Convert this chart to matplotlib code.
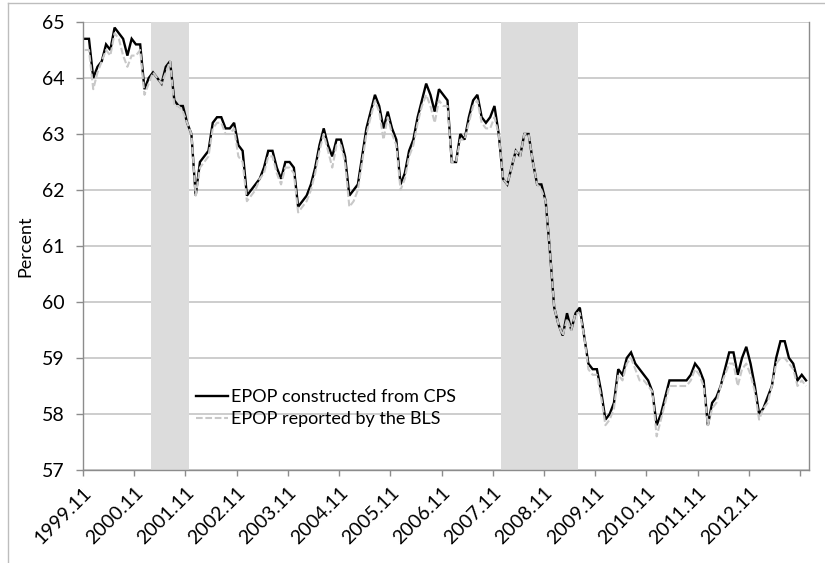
import matplotlib
matplotlib.use("Agg")
import matplotlib.pyplot as plt
from matplotlib.lines import Line2D
import numpy as np

plt.rcParams['font.family'] = ['Lato', 'DejaVu Sans']

# Monthly series, 1999.11 .. 2013.12
cps = [64.7, 64.7, 64.0, 64.2, 64.3, 64.6, 64.5, 64.9, 64.8, 64.7, 64.4, 64.7,
       64.6, 64.6, 63.8, 64.0, 64.1, 64.0, 63.9, 64.2, 64.3, 63.6, 63.5, 63.5,
       63.2, 63.0, 61.9, 62.5, 62.6, 62.7, 63.2, 63.3, 63.3, 63.1, 63.1, 63.2,
       62.8, 62.7, 61.9, 62.0, 62.1, 62.2, 62.4, 62.7, 62.7, 62.4, 62.2, 62.5,
       62.5, 62.4, 61.7, 61.8, 61.9, 62.1, 62.4, 62.8, 63.1, 62.8, 62.6, 62.9,
       62.9, 62.6, 61.9, 62.0, 62.1, 62.6, 63.1, 63.4, 63.7, 63.5, 63.1, 63.4,
       63.1, 62.9, 62.1, 62.3, 62.7, 62.9, 63.3, 63.6, 63.9, 63.7, 63.4, 63.8,
       63.7, 63.6, 62.5, 62.5, 63.0, 62.9, 63.3, 63.6, 63.7, 63.3, 63.2, 63.3,
       63.5, 63.0, 62.2, 62.1, 62.4, 62.7, 62.6, 63.0, 63.0, 62.5, 62.1, 62.1,
       61.8, 60.9, 59.9, 59.6, 59.4, 59.8, 59.5, 59.8, 59.9, 59.4, 58.9, 58.8,
       58.8, 58.4, 57.9, 58.0, 58.2, 58.8, 58.7, 59.0, 59.1, 58.9, 58.8, 58.7,
       58.6, 58.4, 57.8, 58.0, 58.3, 58.6, 58.6, 58.6, 58.6, 58.6, 58.7, 58.9,
       58.8, 58.6, 57.8, 58.2, 58.3, 58.5, 58.8, 59.1, 59.1, 58.7, 59.0, 59.2,
       58.9, 58.5, 58.0, 58.1, 58.3, 58.5, 59.0, 59.3, 59.3, 59.0, 58.9, 58.6,
       58.7, 58.6]

bls = [64.5, 64.5, 63.8, 64.1, 64.3, 64.5, 64.4, 64.8, 64.7, 64.4, 64.2, 64.4,
       64.4, 64.5, 63.7, 63.9, 64.1, 64.0, 63.9, 64.1, 64.3, 63.5, 63.5, 63.4,
       63.2, 63.0, 61.9, 62.4, 62.5, 62.6, 63.1, 63.2, 63.2, 63.0, 63.0, 63.1,
       62.6, 62.5, 61.8, 61.9, 62.0, 62.2, 62.3, 62.6, 62.6, 62.3, 62.1, 62.4,
       62.4, 62.3, 61.6, 61.7, 61.8, 62.0, 62.3, 62.7, 63.0, 62.7, 62.4, 62.8,
       62.8, 62.5, 61.7, 61.8, 62.0, 62.5, 63.0, 63.3, 63.6, 63.4, 62.9, 63.3,
       63.0, 62.8, 62.0, 62.2, 62.6, 62.8, 63.2, 63.5, 63.7, 63.5, 63.2, 63.6,
       63.5, 63.5, 62.5, 62.5, 62.9, 62.9, 63.2, 63.5, 63.6, 63.2, 63.1, 63.1,
       63.3, 63.0, 62.2, 62.1, 62.4, 62.7, 62.6, 63.0, 63.0, 62.5, 62.1, 62.0,
       61.8, 60.9, 59.9, 59.6, 59.4, 59.7, 59.5, 59.8, 59.8, 59.4, 58.8, 58.7,
       58.7, 58.3, 57.8, 57.9, 58.1, 58.7, 58.6, 58.9, 59.0, 58.8, 58.6, 58.6,
       58.5, 58.4, 57.6, 57.9, 58.2, 58.5, 58.5, 58.5, 58.5, 58.5, 58.6, 58.8,
       58.7, 58.5, 57.8, 58.1, 58.2, 58.5, 58.7, 58.9, 58.9, 58.5, 58.8, 58.9,
       58.7, 58.4, 57.9, 58.1, 58.2, 58.5, 58.9, 59.0, 59.0, 58.9, 58.8, 58.5,
       58.6, 58.5]

tick_labels = ["1999.11", "2000.11", "2001.11", "2002.11", "2003.11", "2004.11",
               "2005.11", "2006.11", "2007.11", "2008.11", "2009.11", "2010.11",
               "2011.11", "2012.11", ""]

recessions = [("2001.03", "2001.11"), ("2008.01", "2009.06")]

START_YEAR, START_MONTH = 1999, 11


def month_index(label):
    y, m = label.split(".")
    return (int(y) - START_YEAR) * 12 + (int(m) - START_MONTH)


W, H = 825, 563
fig = plt.figure(figsize=(W / 100, H / 100), dpi=100)
L, R, T, B = 83, 808.6, 22, 470
ax = fig.add_axes([L / W, 1 - B / H, (R - L) / W, (B - T) / H])

x = np.arange(len(cps))
OFFSET = 0.4  # category offset of tick marks relative to plotted points
ax.set_xlim(-OFFSET, len(cps) - OFFSET)
ax.set_ylim(57, 65)

for s, e in recessions:
    ax.axvspan(month_index(s) - 0.5, month_index(e) + 0.5, color='#DCDCDC', lw=0, zorder=1)

ax.yaxis.grid(True, color='#C0C0C0', lw=1.1)
ax.set_axisbelow(True)

ax.plot(x, cps, color='black', lw=1.7, zorder=3, solid_joinstyle='miter',
        label='EPOP constructed from CPS')
ax.plot(x, bls, color='#C8C8C8', lw=1.5, ls=(0, (3.2, 1.3)), zorder=4,
        label='EPOP reported by the BLS')

ax.set_yticks(np.arange(57, 66, 1))
ax.set_xticks(np.arange(0, len(cps), 12) - OFFSET)
ax.set_xticklabels(tick_labels[:len(np.arange(0, len(cps), 12))],
                   rotation=45, ha='right', va='top', rotation_mode='anchor')

for sp in ['top']:
    ax.spines[sp].set_visible(False)
for sp in ['left', 'bottom', 'right']:
    ax.spines[sp].set_color('#8C8C8C')
    ax.spines[sp].set_linewidth(1.0)
    ax.spines[sp].set_zorder(5)

ax.tick_params(axis='y', direction='out', length=5, width=1, color='#8C8C8C',
               labelsize=14, pad=8)
ax.tick_params(axis='x', direction='out', length=4, width=1, color='#8C8C8C',
               labelsize=14, pad=6)
ax.set_ylabel('Percent', fontsize=13, labelpad=6)

leg = ax.legend(loc='upper left', bbox_to_anchor=(196 / W, 1 - 389 / H),
                bbox_transform=fig.transFigure, frameon=False, fontsize=13,
                handlelength=1.75, handletextpad=0.2, borderpad=0, borderaxespad=0,
                labelspacing=0.35)

# outer chart-area border (partially visible)
fig.add_artist(Line2D([8 / W, 8 / W], [0, 1 - 3 / H], transform=fig.transFigure,
                      color='#BDBDBD', lw=1))
fig.add_artist(Line2D([8 / W, 1], [1 - 3 / H, 1 - 3 / H], transform=fig.transFigure,
                      color='#BDBDBD', lw=1))

fig.savefig('out.png', dpi=100)
